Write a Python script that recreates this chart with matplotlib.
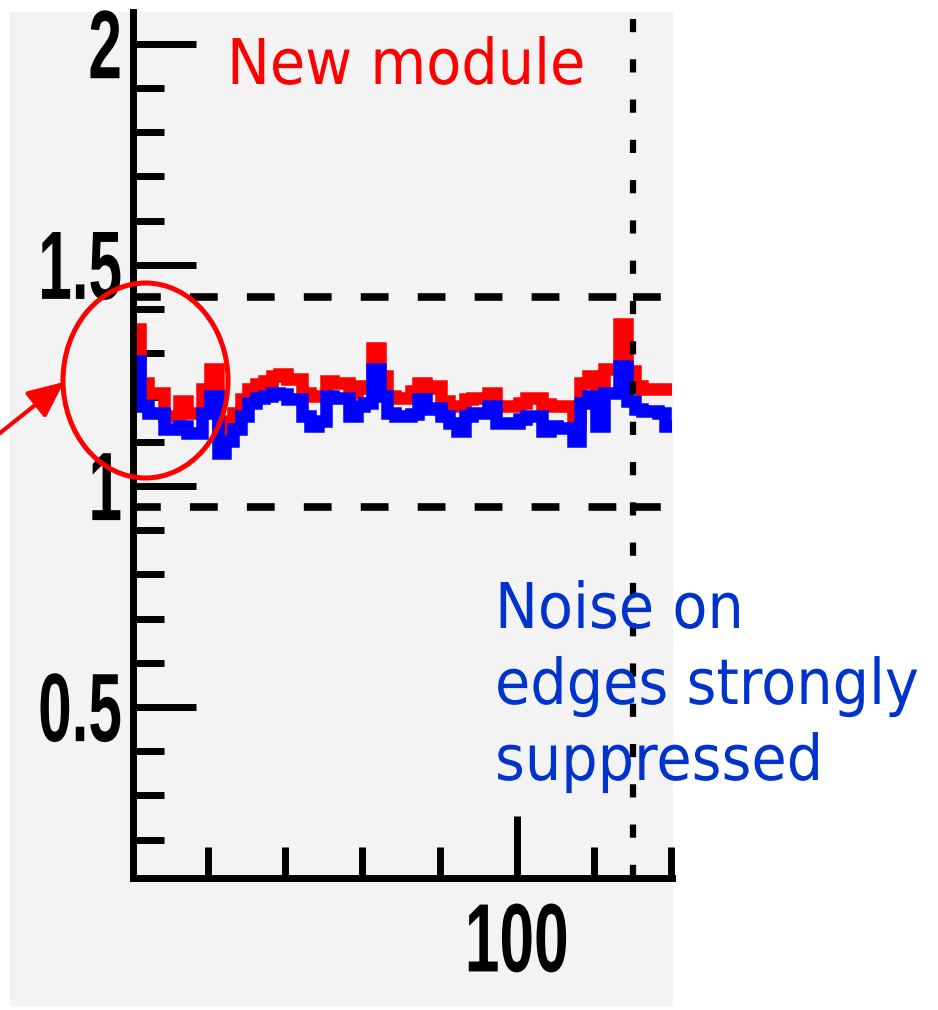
import numpy as np
import matplotlib.pyplot as plt
from matplotlib.patches import Ellipse, Rectangle, FancyArrowPatch
from matplotlib.patheffects import AbstractPathEffect
from matplotlib.transforms import Affine2D

plt.rcParams['lines.scale_dashes'] = False

# %% data (2 strips per bin)
edges = np.arange(0.5, 141, 2.0)

red = [1.355, 1.233, 1.210, 1.210, 1.158, 1.158, 1.192, 1.165, 1.165, 1.219,
       1.265, 1.120, 1.147, 1.165, 1.197, 1.219, 1.231, 1.238, 1.249, 1.253,
       1.242, 1.242, 1.210, 1.204, 1.204, 1.238, 1.233, 1.233, 1.210, 1.226,
       1.222, 1.312, 1.249, 1.204, 1.199, 1.199, 1.215, 1.233, 1.222, 1.226,
       1.192, 1.181, 1.181, 1.197, 1.199, 1.199, 1.210, 1.181, 1.181, 1.181,
       1.188, 1.199, 1.199, 1.186, 1.181, 1.181, 1.181, 1.140, 1.233, 1.249,
       1.219, 1.265, 1.265, 1.367, 1.260, 1.226, 1.219, 1.219, 1.219, 1.219]

blue = [1.283, 1.181, 1.165, 1.165, 1.129, 1.129, 1.136, 1.120, 1.120, 1.165,
        1.204, 1.075, 1.102, 1.129, 1.158, 1.188, 1.199, 1.204, 1.210, 1.208,
        1.197, 1.197, 1.158, 1.136, 1.147, 1.204, 1.199, 1.199, 1.158, 1.181,
        1.188, 1.265, 1.204, 1.165, 1.158, 1.158, 1.163, 1.197, 1.174, 1.176,
        1.158, 1.143, 1.124, 1.158, 1.165, 1.165, 1.181, 1.143, 1.143, 1.143,
        1.152, 1.158, 1.158, 1.124, 1.136, 1.131, 1.131, 1.102, 1.188, 1.204,
        1.136, 1.210, 1.210, 1.271, 1.192, 1.174, 1.170, 1.170, 1.165, 1.136]

cuts = [1.428, 0.952]
chip_edge = 130

y_major = [0.5, 1.0, 1.5, 2.0]
y_labels = ['0.5', '1', '1.5', '2']
y_minor = np.round(np.arange(0.2, 2.01, 0.1), 1)
x_major = [100]
x_labels = ['100']
x_minor = [20, 40, 60, 80, 120, 140]


# %% stretch text vertically (condensed look), layout box stays the narrow one
class Stretch(AbstractPathEffect):
    def __init__(self, sy, anchor='baseline'):
        super().__init__()
        self.sy = sy
        self.anchor = anchor

    def draw_path(self, renderer, gc, tpath, affine, rgbFace=None):
        ext = tpath.get_extents()
        y0 = {'baseline': 0, 'center': (ext.y0 + ext.y1) / 2, 'top': ext.y1}[self.anchor]
        tr = Affine2D().translate(0, -y0).scale(1, self.sy).translate(0, y0) + affine
        renderer.draw_path(gc, tpath, tr, rgbFace)


W, H = 938, 1010
def fx(x): return x / W
def fy(y): return 1 - y / H


fig = plt.figure(figsize=(W / 100, H / 100), dpi=100, facecolor='white')
fig.add_artist(Rectangle((fx(10), fy(1005)), (672 - 10) / W, (1005 - 12) / H,
                         transform=fig.transFigure, color='#f3f3f3', zorder=-1))

ax = fig.add_axes([fx(133), fy(878), (672 - 133) / W, (878 - 12) / H])
ax.set_facecolor('none')
ax.set_xlim(0.6, 140.2)
ax.set_ylim(0.113, 2.072)

ax.stairs(red, edges, baseline=None, color='#ff0000', lw=9, joinstyle='miter', zorder=2.6)
ax.stairs(blue, edges, baseline=None, color='#0000ff', lw=9, joinstyle='miter', zorder=2.6)

for c in cuts:
    ax.plot([0.5, chip_edge], [c, c], color='black', lw=5.5, dashes=[20, 21], zorder=2.7)
    ax.plot([chip_edge, 141], [c, c], color='black', lw=5.5, dashes=[20, 21], zorder=2.7)
ax.axvline(chip_edge, color='black', lw=4.5, dashes=[9.5, 19.5], zorder=2.7)

for s in ['top', 'right']:
    ax.spines[s].set_visible(False)
for s in ['left', 'bottom']:
    ax.spines[s].set_linewidth(5)
    ax.spines[s].set_zorder(3)

ax.set_yticks(y_major, y_labels)
ax.set_yticks(y_minor, minor=True)
ax.set_xticks(x_major, x_labels)
ax.set_xticks(x_minor, minor=True)
ax.tick_params(which='major', direction='in', length=45, width=5, color='black')
ax.tick_params(which='minor', direction='in', length=22, width=5, color='black')
ax.tick_params(axis='y', pad=8)
ax.tick_params(axis='x', pad=18)

plt.setp(ax.get_yticklabels(), family=['Liberation Sans', 'DejaVu Sans'], weight='bold',
         fontsize=43.4, path_effects=[Stretch(1 / 0.62, 'center')])
plt.setp(ax.get_xticklabels(), family=['Liberation Sans', 'DejaVu Sans'], weight='bold',
         fontsize=44.8, path_effects=[Stretch(1 / 0.64, 'top')])

# %% annotations
fig.text(fx(227), fy(84), 'New module', color='#ff0000', fontsize=41.3,
         family='DejaVu Sans', va='baseline', path_effects=[Stretch(1.1)])
for txt, yb in zip(['Noise on', 'edges strongly', 'suppressed'], [628, 704, 780]):
    fig.text(fx(495), fy(yb), txt, color='#0033cc', fontsize=41.3,
             family='DejaVu Sans', va='baseline', path_effects=[Stretch(1.1)])

fig.add_artist(Ellipse((fx(145.5), fy(380.5)), 165 / W, 195 / H, transform=fig.transFigure,
                       fill=False, ec='#ff0000', lw=3.6, zorder=5))
fig.add_artist(FancyArrowPatch((fx(-5), fy(437)), (fx(64), fy(382)), transform=fig.transFigure,
                               arrowstyle='-|>,head_length=2.2,head_width=1.0', mutation_scale=10,
                               color='#ff0000', lw=3, shrinkA=0, shrinkB=0, zorder=5))

fig.savefig('out.png', dpi=100)
